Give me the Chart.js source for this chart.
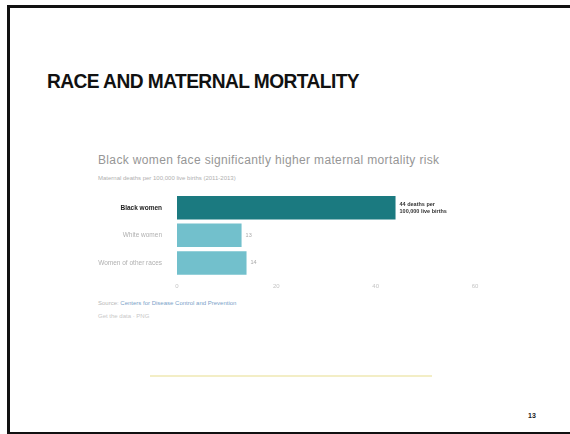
<!DOCTYPE html>
<html>
<head>
<meta charset="utf-8">
<script src="https://cdn.jsdelivr.net/npm/chart.js@4/dist/chart.umd.min.js"></script>
<style>
  html, body { margin: 0; padding: 0; background: #fff; }
  body { width: 570px; height: 434px; position: relative; overflow: hidden; font-family: "Liberation Sans", Arial, sans-serif; }
  .frame { position: absolute; left: 7px; top: 5px; width: 600px; height: 424px; border-left: 3px solid #111; border-top: 3px solid #111; border-bottom: 3px solid #111; box-sizing: content-box; }
  .slide-title { position: absolute; left: 47px; top: 69px; font-size: 20.5px; font-weight: bold; color: #111; letter-spacing: -0.6px; transform: scaleX(0.935); transform-origin: left; }
  .ctitle { position: absolute; left: 98px; top: 153px; font-size: 12px; color: #969696; letter-spacing: 0.35px; }
  .csub { position: absolute; left: 98px; top: 175px; font-size: 6px; color: #b0b0b0; }
  .src { position: absolute; left: 98px; top: 300px; font-size: 6px; color: #7aa2c8; }
  .src span { color: #b8b8b8; }
  .getdata { position: absolute; left: 98px; top: 313px; font-size: 6px; color: #c8c8c8; }
  .footline { position: absolute; left: 150px; top: 375px; width: 282px; height: 2px; background: #f3eec6; }
  .pagenum { position: absolute; left: 528px; top: 412px; font-size: 7px; font-weight: bold; color: #222; }
  .chartbox { position: absolute; left: 90px; top: 183px; width: 400px; height: 113px; }
</style>
</head>
<body>
<div class="frame"></div>
<div class="slide-title">RACE AND MATERNAL MORTALITY</div>
<div class="ctitle">Black women face significantly higher maternal mortality risk</div>
<div class="csub">Maternal deaths per 100,000 live births (2011-2013)</div>
<div class="chartbox"><canvas id="chart"></canvas></div>
<div class="src"><span>Source:</span> Centers for Disease Control and Prevention</div>
<div class="getdata">Get the data · PNG</div>
<div class="footline"></div>
<div class="pagenum">13</div>
<script>
const categories = ['Black women', 'White women', 'Women of other races'];
const deaths = [44, 13, 14];
const barColors = ['#1b7a80', '#72c0cc', '#72c0cc'];
const valueLabels = [['44 deaths per', '100,000 live births'], ['13'], ['14']];
const xTicks = [0, 20, 40, 60];

// writes the value next to the end of each bar
const barLabels = {
  id: 'barLabels',
  afterDatasetsDraw(chart) {
    const ctx = chart.ctx;
    const meta = chart.getDatasetMeta(0);
    meta.data.forEach((bar, i) => {
      const lines = valueLabels[i];
      ctx.save();
      ctx.fillStyle = i === 0 ? '#333' : '#aaa';
      ctx.font = (i === 0 ? 'bold ' : '') + '5.5px "Liberation Sans", Arial, sans-serif';
      ctx.textBaseline = 'middle';
      const lh = 7;
      const y0 = bar.y - (lines.length - 1) * lh / 2;
      lines.forEach((t, k) => ctx.fillText(t, bar.x + 4, y0 + k * lh));
      ctx.restore();
    });
  }
};

new Chart(document.getElementById('chart'), {
  type: 'bar',
  data: {
    labels: categories,
    datasets: [{
      data: deaths,
      backgroundColor: barColors,
      barPercentage: 1,
      categoryPercentage: 0.85
    }]
  },
  options: {
    indexAxis: 'y',
    responsive: true,
    maintainAspectRatio: false,
    animation: false,
    layout: { padding: { top: 4, right: 15, bottom: 0, left: 0 } },
    plugins: { legend: { display: false }, tooltip: { enabled: false } },
    scales: {
      x: {
        min: 0,
        max: 60,
        afterBuildTicks: (scale) => { scale.ticks = xTicks.map(v => ({ value: v })); },
        grid: { display: false, drawTicks: false },
        border: { display: false },
        ticks: { color: '#c4c4c4', font: { size: 6 }, padding: 6 }
      },
      y: {
        afterFit: (scale) => { scale.width = 87; },
        grid: { display: false },
        border: { display: false },
        ticks: {
          padding: 7,
          color: (c) => c.index === 0 ? '#222' : '#b0b0b0',
          font: (c) => ({ size: 6.5, weight: c.index === 0 ? 'bold' : 'normal' })
        }
      }
    }
  },
  plugins: [barLabels]
});
</script>
</body>
</html>
